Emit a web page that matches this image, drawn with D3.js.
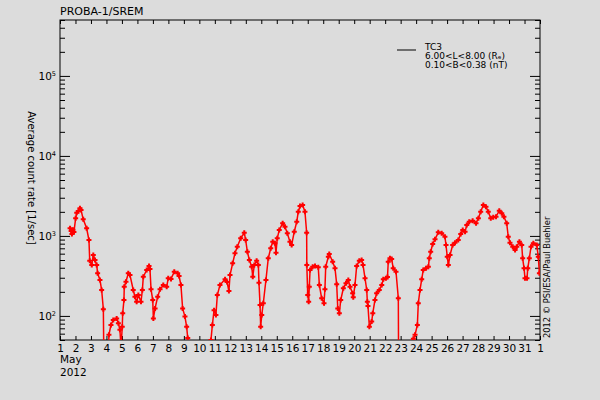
<!DOCTYPE html>
<html><head><meta charset="utf-8">
<script src="https://cdn.jsdelivr.net/npm/d3@7"></script>
<style>body{margin:0;background:#dcdcdc;} svg{display:block;}</style>
</head><body><svg id="c" width="600" height="400"></svg>
<script>
const title = "PROBA-1/SREM";
const yTitle = "Average count rate [1/sec]";
const credit = "2012 \u00A9 PSI/ESA/Paul Buehler";
const legendLines = ["TC3", "6.00<L<8.00 (R\u2091)", "0.10<B<0.38 (nT)"];
const xTickValues = d3.range(1, 33);
const xTickLabels = [...d3.range(1, 32).map(String), "1"];
const yMajorTicks = [100, 1000, 10000, 100000];
const monthLabel = "May";
const yearLabel = "2012";

// day of May 2012 (fractional) and average count rate (1/sec)
const days = [1.65,1.72,1.77,1.84,1.90,2.01,2.08,2.19,2.29,2.36,2.50,2.72,2.87,2.92,3.05,3.15,3.26,3.37,3.43,3.58,3.69,3.80,3.84,4.10,
4.16,4.29,4.44,4.66,4.77,4.87,4.94,5.02,5.05,5.13,5.15,5.26,5.41,5.52,5.73,5.84,5.95,6.06,6.23,6.32,6.38,6.60,6.75,6.81,6.88,6.99,7.03,7.14,7.31,7.46,7.67,7.89,7.99,8.17,8.38,8.60,8.69,8.81,8.92,9.07,9.18,9.25,9.30,10.70,
10.75,10.84,10.95,11.07,11.16,11.33,11.66,11.79,11.91,11.98,12.15,12.30,12.45,12.67,12.90,12.99,13.10,13.23,13.38,13.45,13.55,13.70,13.81,13.85,13.92,13.96,14.03,14.13,14.30,14.45,14.61,14.74,14.88,14.95,15.03,15.16,15.38,15.53,15.68,15.85,15.96,16.13,16.29,16.39,16.50,16.67,16.82,16.93,16.94,17.00,17.06,17.10,17.15,17.32,17.47,17.68,17.75,17.90,18.05,18.11,18.16,18.33,18.39,18.61,18.76,18.87,18.94,19.04,19.13,19.30,19.47,19.62,19.73,19.90,19.94,20.05,20.16,20.33,20.48,20.57,20.70,20.81,20.85,20.89,20.98,21.13,21.20,21.34,21.45,21.62,21.78,21.88,22.05,22.15,22.20,22.31,22.42,22.52,22.70,22.85,22.87,23.75,
23.82,23.93,24.08,24.14,24.25,24.36,24.46,24.64,24.79,24.85,24.94,25.07,25.22,25.43,25.65,25.86,25.93,26.01,26.08,26.19,26.36,26.51,26.72,26.88,27.01,27.16,27.27,27.43,27.65,27.87,28.02,28.17,28.34,28.51,28.66,28.82,28.98,29.16,29.37,29.53,29.67,29.85,29.95,30.06,30.24,30.39,30.50,30.67,30.82,30.88,30.97,31.03,31.16,31.21,31.31,31.42,31.57,31.79,31.89,31.96];
const rates = [1250,1150,1060,1190,1120,1660,1950,2050,2210,2110,1610,1245,889,490,433,577,500,433,341,281,211,121,20,20,
58,77,89,93,81,67,40,73,108,158,232,268,341,324,211,174,150,182,150,211,309,375,420,386,215,158,93,124,174,215,243,232,295,290,357,341,315,243,124,98,73,53,20,20,
50,77,118,103,182,243,287,265,205,324,454,606,733,933,1096,889,635,500,412,309,433,490,433,260,137,73,103,144,281,525,700,846,808,617,933,1185,1437,1303,1078,846,769,1129,1505,2006,2366,2434,2006,1096,433,182,150,232,375,412,420,405,243,166,144,215,412,550,594,476,394,248,124,108,158,221,256,281,232,192,171,243,420,490,500,433,295,211,150,133,73,85,108,158,192,211,243,287,295,306,476,525,514,394,357,166,20,20,
52,58,77,144,211,287,375,394,412,525,635,792,907,1109,1078,977,769,550,433,577,769,822,889,1060,1185,1129,1368,1505,1549,1437,1660,2006,2434,2317,2006,1660,1708,1738,2065,1917,1738,1437,977,822,733,666,733,846,769,525,394,295,295,394,525,733,808,769,550,341];

const svg = d3.select("#c");
const W = 600, H = 400;
const m = {l: 60, r: 540, t: 20, b: 340};
svg.append("rect").attr("width", W).attr("height", H).attr("fill", "#dcdcdc");

const x = d3.scaleLinear().domain([1, 32]).range([m.l, m.r]);
const y = d3.scaleLog().domain([50, 500000]).range([m.b, m.t]);

const font = "'DejaVu Sans', sans-serif";

// minor log ticks
const minor = [];
[10, 100, 1000, 10000, 100000].forEach(d => { for (let k = 2; k <= 9; k++) { const v = d * k; if (v >= 50 && v <= 500000) minor.push(v); } });

function styleAxis(g) {
  g.select(".domain").remove();
  g.selectAll("line").attr("stroke", "#000").attr("stroke-width", 1);
  g.selectAll("text").attr("font-family", font).attr("font-size", 10.5).attr("fill", "#000");
}

svg.append("g").attr("transform", `translate(0,${m.b})`)
  .call(d3.axisBottom(x).tickValues(xTickValues).tickSize(-4).tickPadding(5)
    .tickFormat((d, i) => xTickLabels[i]))
  .call(styleAxis);
svg.append("g").attr("transform", `translate(0,${m.t})`)
  .call(d3.axisTop(x).tickValues(xTickValues).tickSize(-4).tickFormat(""))
  .call(styleAxis);
svg.append("g").attr("transform", `translate(${m.l},0)`)
  .call(d3.axisLeft(y).tickValues(minor).tickSize(-5).tickFormat(""))
  .call(styleAxis);
svg.append("g").attr("transform", `translate(${m.l},0)`)
  .call(d3.axisLeft(y).tickValues(yMajorTicks).tickSize(-10).tickFormat(""))
  .call(styleAxis);
svg.append("g").attr("transform", `translate(${m.r},0)`)
  .call(d3.axisRight(y).tickValues(minor).tickSize(-5).tickFormat(""))
  .call(styleAxis);
svg.append("g").attr("transform", `translate(${m.r},0)`)
  .call(d3.axisRight(y).tickValues(yMajorTicks).tickSize(-10).tickFormat(""))
  .call(styleAxis);

// y major labels 10^n
const yl = svg.append("g");
yMajorTicks.forEach(v => {
  const t = yl.append("text").attr("x", 56).attr("y", y(v) + 4)
    .attr("text-anchor", "end").attr("font-family", font).attr("font-size", 10.5);
  t.append("tspan").text("10");
  t.append("tspan").attr("dy", -4).attr("font-size", 6.5).text(String(Math.round(Math.log10(v))));
});

// frame
svg.append("rect").attr("x", m.l).attr("y", m.t).attr("width", m.r - m.l).attr("height", m.b - m.t)
  .attr("fill", "none").attr("stroke", "#000").attr("stroke-width", 1);

// data
svg.append("clipPath").attr("id", "clip").append("rect")
  .attr("x", m.l).attr("y", m.t).attr("width", m.r - m.l).attr("height", m.b - m.t);
const pts = days.map((d, i) => [d, rates[i]]);
const plot = svg.append("g").attr("clip-path", "url(#clip)");
plot.append("path").datum(pts)
  .attr("d", d3.line().x(d => x(d[0])).y(d => y(d[1])))
  .attr("fill", "none").attr("stroke", "#ff0000").attr("stroke-width", 1.5);
plot.selectAll("path.mk").data(pts.filter(d => d[1] >= 50)).join("path").attr("class", "mk")
  .attr("d", d => { const cx = x(d[0]), cy = y(d[1]); return `M${cx-2.5},${cy}H${cx+2.5}M${cx},${cy-2.5}V${cy+2.5}`; })
  .attr("stroke", "#ff0000").attr("stroke-width", 2).attr("fill", "none");

// titles
svg.append("text").attr("x", 60).attr("y", 15).attr("font-family", font).attr("font-size", 11).text(title);
svg.append("text").attr("transform", "translate(28,178) rotate(90)").attr("text-anchor", "middle")
  .attr("font-family", font).attr("font-size", 10).text(yTitle);
svg.append("text").attr("x", 60).attr("y", 363).attr("font-family", font).attr("font-size", 10.5).text(monthLabel);
svg.append("text").attr("x", 60).attr("y", 376).attr("font-family", font).attr("font-size", 10.5).text(yearLabel);
svg.append("text").attr("transform", "translate(550,338) rotate(-90)")
  .attr("font-family", font).attr("font-size", 8.3).text(credit);

// legend
svg.append("line").attr("x1", 397).attr("x2", 416).attr("y1", 50).attr("y2", 50).attr("stroke", "#000").attr("stroke-width", 1);
legendLines.forEach((s, i) => {
  svg.append("text").attr("x", 425).attr("y", 50 + i * 9).attr("font-family", font).attr("font-size", 9).text(s);
});
</script></body></html>
